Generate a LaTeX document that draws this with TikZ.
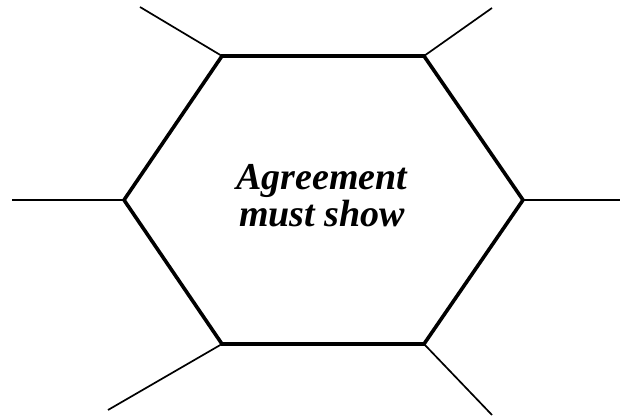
\documentclass[tikz,border=0pt]{standalone}
\usepackage{fontspec}
\setmainfont{Liberation Serif}
\begin{document}
\begin{tikzpicture}[x=1pt,y=-1pt,
  hexline/.style={line width=3.6pt,line join=miter},
  spoke/.style={line width=1.7pt},
  label/.style={font=\fontsize{38}{37}\selectfont\bfseries\itshape,align=center,inner sep=0pt}]
\useasboundingbox (0,0) rectangle (630,419);
% hexagon vertices
\coordinate (tl) at (222,56);
\coordinate (tr) at (424,56);
\coordinate (r) at (523,200);
\coordinate (br) at (424,344);
\coordinate (bl) at (222,344);
\coordinate (l) at (124,200);
% spoke ends
\coordinate (etl) at (140,7);
\coordinate (etr) at (492,8);
\coordinate (er) at (620,200);
\coordinate (el) at (12,200);
\coordinate (ebl) at (108,410);
\coordinate (ebr) at (492,415);
\draw[spoke] (tl) -- (etl);
\draw[spoke] (tr) -- (etr);
\draw[spoke] (r) -- (er);
\draw[spoke] (l) -- (el);
\draw[spoke] (bl) -- (ebl);
\draw[spoke] (br) -- (ebr);
\draw[hexline] (tl) -- (tr) -- (r) -- (br) -- (bl) -- (l) -- cycle;
\node[label] (txt) at (322,196) {Agreement\\must show};
\end{tikzpicture}
\end{document}
